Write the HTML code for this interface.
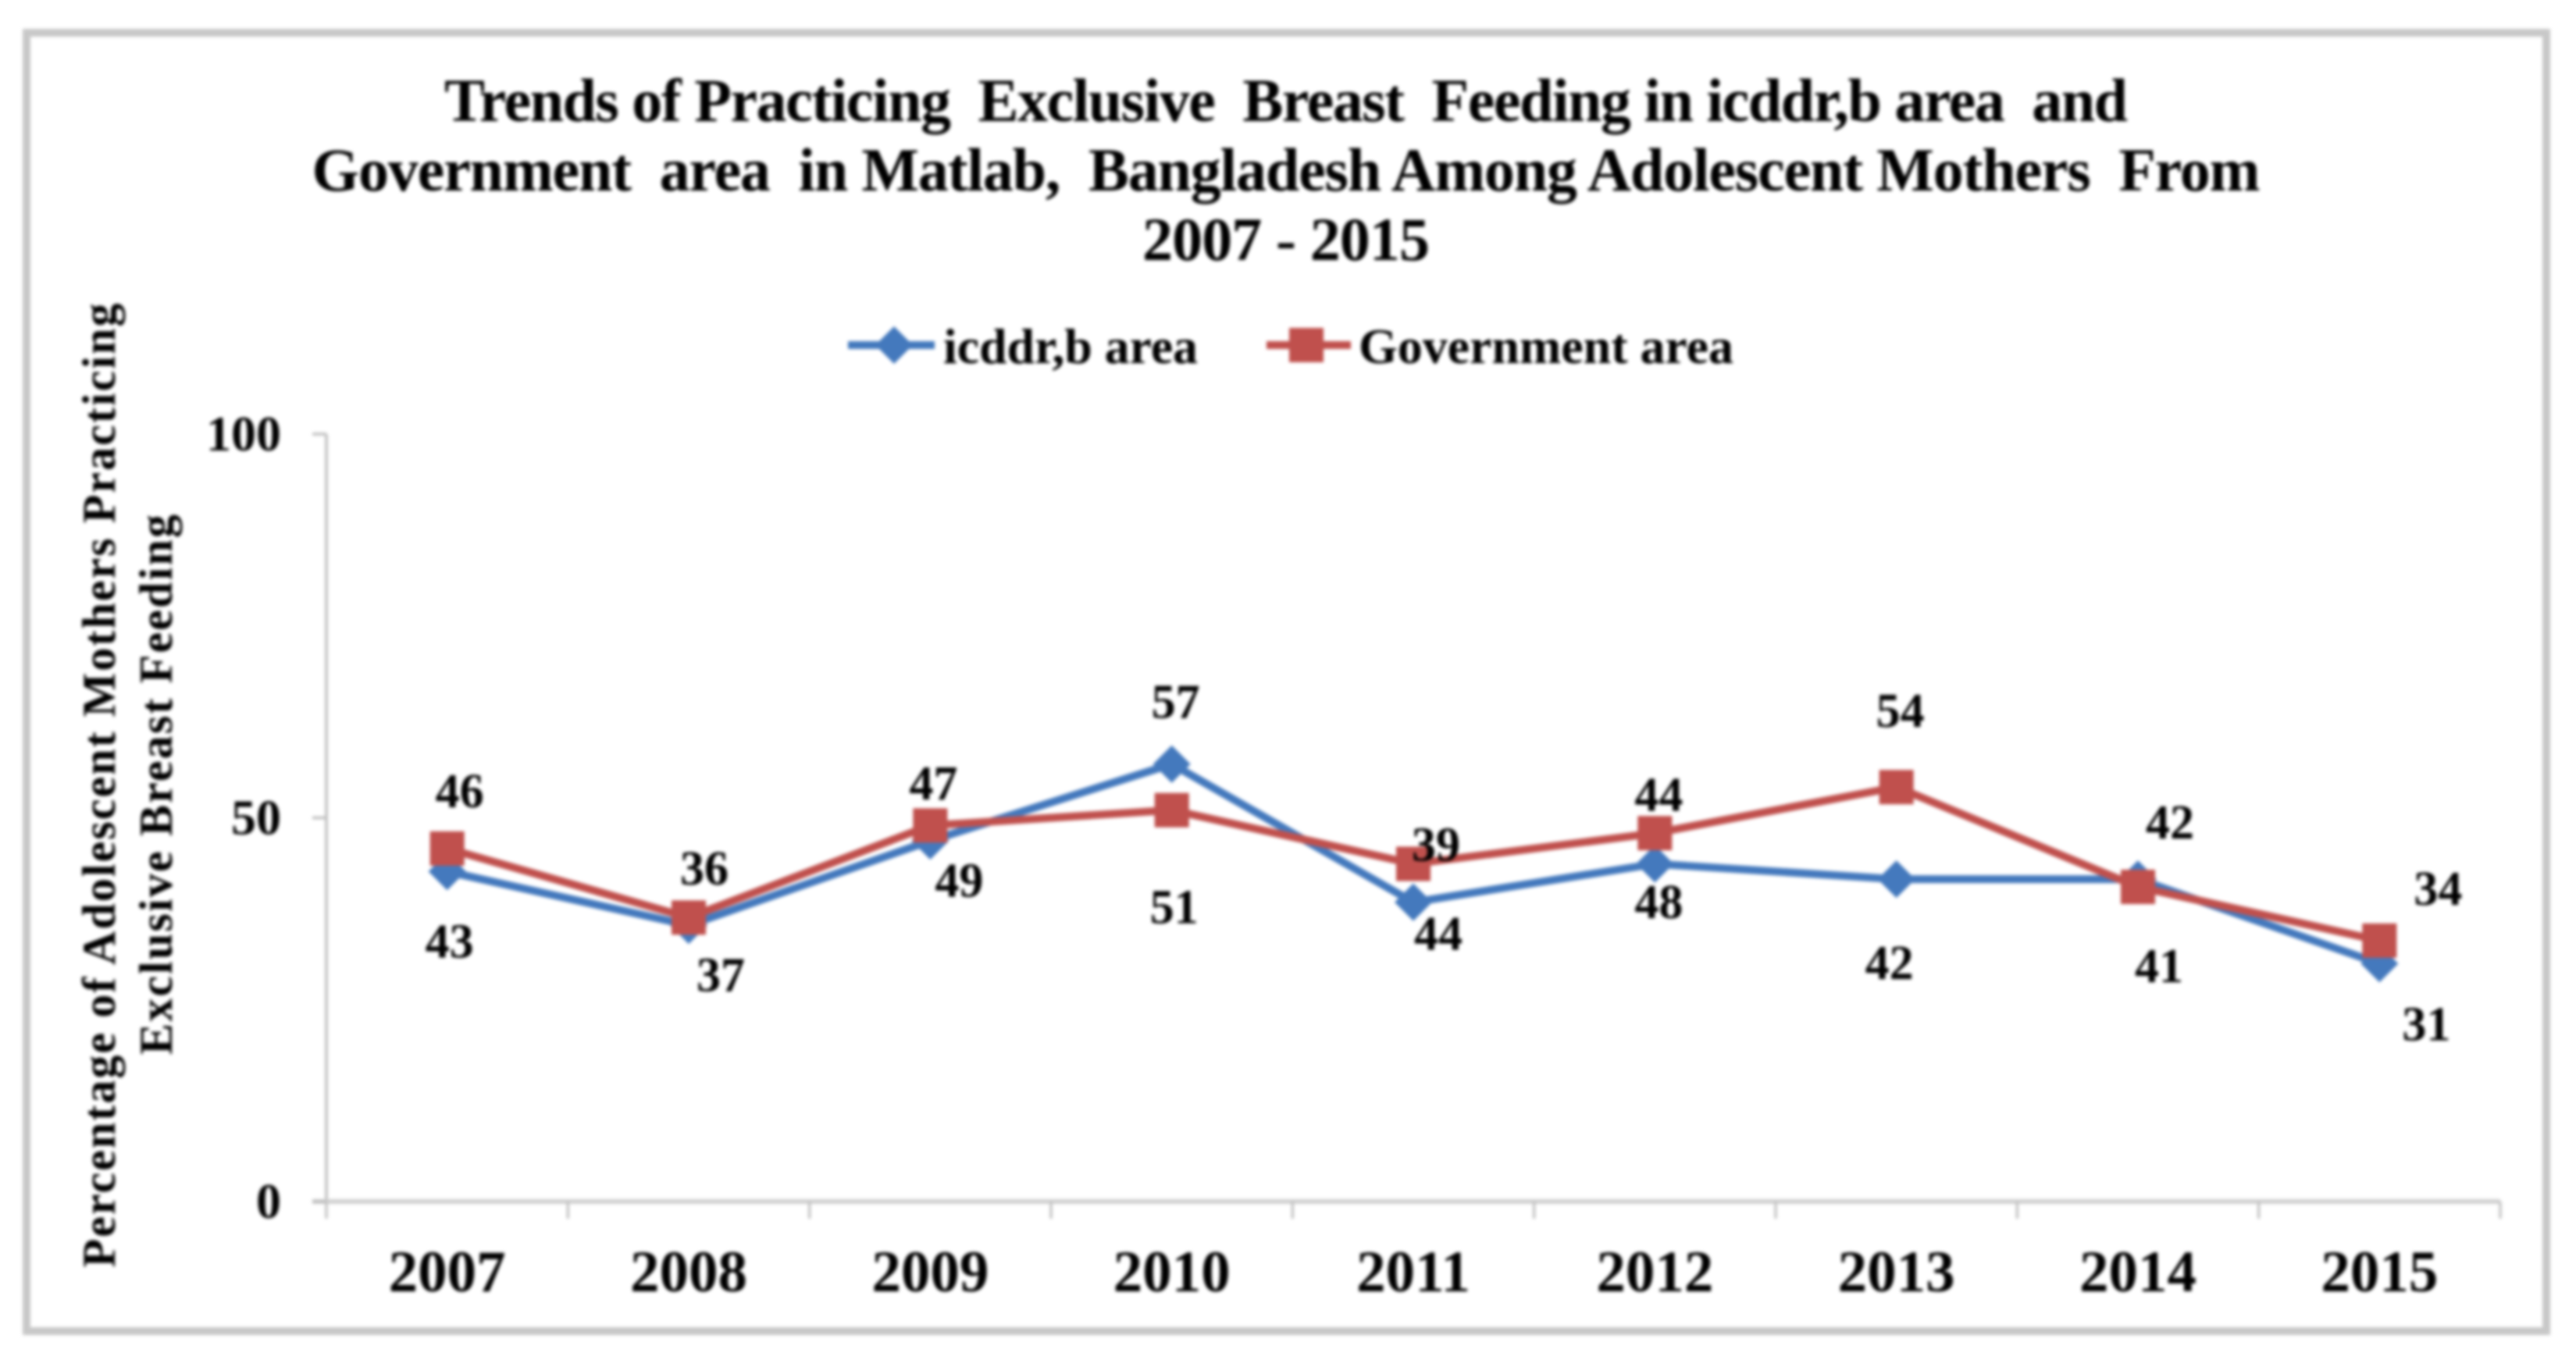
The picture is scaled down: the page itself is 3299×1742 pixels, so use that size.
<!DOCTYPE html>
<html lang="en">
<head>
<meta charset="utf-8">
<title>Trends of Practicing Exclusive Breast Feeding</title>
<style>
html,body{margin:0;padding:0;background:#fff;width:3299px;height:1742px;overflow:hidden}
svg{display:block;filter:blur(2px)}
text{font-family:"Liberation Serif",serif;font-weight:bold;fill:#000;white-space:pre}
</style>
</head>
<body>
<svg id="chart" xmlns="http://www.w3.org/2000/svg" width="3299" height="1742" viewBox="0 0 3299 1742">
  <rect x="34" y="42" width="3227" height="1663" fill="#fff" stroke="#c8c8c8" stroke-width="10"/>
  <g font-size="78" text-anchor="middle">
    <text x="1647" y="155" textLength="2156" lengthAdjust="spacing" xml:space="preserve">Trends of Practicing  Exclusive  Breast  Feeding in icddr,b area  and</text>
    <text x="1647" y="244" textLength="2495" lengthAdjust="spacing" xml:space="preserve">Government  area  in Matlab,  Bangladesh Among Adolescent Mothers  From</text>
    <text x="1647" y="333" textLength="368" lengthAdjust="spacing">2007 - 2015</text>
  </g>
  <g font-size="60" text-anchor="middle">
    <text transform="translate(147 1006) rotate(-90)" textLength="1235" lengthAdjust="spacing">Percentage of Adolescent Mothers Practicing</text>
    <text transform="translate(220 1005) rotate(-90)" textLength="692" lengthAdjust="spacing">Exclusive Breast Feeding</text>
  </g>
  <g>
    <g>
      <line x1="1086" y1="442" x2="1197" y2="442" stroke="#4479bd" stroke-width="10"/>
      <polygon points="1145,418 1169,442 1145,466 1121,442" fill="#4479bd"/>
      <text x="1208" y="465" font-size="64" textLength="326" lengthAdjust="spacing">icddr,b area</text>
    </g>
    <g>
      <line x1="1622" y1="442" x2="1730" y2="442" stroke="#c0504d" stroke-width="10"/>
      <rect x="1651" y="420" width="44" height="44" fill="#c0504d"/>
      <text x="1740" y="465" font-size="64" textLength="480" lengthAdjust="spacing">Government area</text>
    </g>
  </g>
  <g id="axes"></g>
  <g id="series"></g>
  <g id="labels"></g>
</svg>
<script>
var categories = ["2007","2008","2009","2010","2011","2012","2013","2014","2015"];
var icddrbValues = [43,36,47,57,39,44,42,42,31];
var governmentValues = [46,37,49,51,44,48,54,41,34];
var yTickValues = [0,50,100];

var NS = "http://www.w3.org/2000/svg";
var plot = {left:418, right:3202, top:556, bottom:1539, yMax:100};
function xPos(i){ return plot.left + (plot.right - plot.left) * (i + 0.5) / categories.length; }
function xEdge(i){ return plot.left + (plot.right - plot.left) * i / categories.length; }
function yPos(v){ return plot.bottom - (plot.bottom - plot.top) * v / plot.yMax; }
function make(tag, attrs, parent, text){
  var el = document.createElementNS(NS, tag);
  for (var k in attrs) el.setAttribute(k, attrs[k]);
  if (text !== undefined) el.textContent = text;
  parent.appendChild(el);
  return el;
}
var axes = document.getElementById("axes");
var seriesLayer = document.getElementById("series");
var labelLayer = document.getElementById("labels");

var yAxis = make("line", {x1:plot.left, y1:plot.top, x2:plot.left, y2:plot.bottom, stroke:"#bdbdbd", "stroke-width":3.5}, axes);


var xAxis = make("line", {x1:400, y1:plot.bottom, x2:plot.right, y2:plot.bottom, stroke:"#d0d0d0", "stroke-width":6}, axes);



yTickValues.forEach(function(v){
  var t = make("line", {x1:400, y1:yPos(v), x2:plot.left, y2:yPos(v), stroke:"#bdbdbd", "stroke-width":3.5}, axes);
  
  
  var l = make("text", {x:360, y:yPos(v) + 21, "text-anchor":"end", "font-size":64}, axes, String(v));
  
  
});
for (var e = 0; e <= categories.length; e++){
  var tk = make("line", {x1:xEdge(e), y1:plot.bottom, x2:xEdge(e), y2:plot.bottom + 22, stroke:"#c4c4c4", "stroke-width":3.5}, axes);
  
  
}
categories.forEach(function(c, i){
  var l = make("text", {x:xPos(i), y:1654, "text-anchor":"middle", "font-size":75}, axes, c);
  
  
});

function polyPoints(vals){
  return vals.map(function(v, i){ return xPos(i) + "," + yPos(v); }).join(" ");
}
var blueLine = make("polyline", {points:polyPoints(icddrbValues), fill:"none", stroke:"#4479bd", "stroke-width":10, "stroke-linejoin":"miter"}, seriesLayer);


icddrbValues.forEach(function(v, i){
  var cx = xPos(i), cy = yPos(v), r = 24;
  var d = make("polygon", {points:cx+","+(cy-r)+" "+(cx+r)+","+cy+" "+cx+","+(cy+r)+" "+(cx-r)+","+cy, fill:"#4479bd"}, seriesLayer);
  
  
});
var redLine = make("polyline", {points:polyPoints(governmentValues), fill:"none", stroke:"#c0504d", "stroke-width":10, "stroke-linejoin":"miter"}, seriesLayer);


governmentValues.forEach(function(v, i){
  var s = 44;
  var r = make("rect", {x:xPos(i)-s/2, y:yPos(v)-s/2, width:s, height:s, fill:"#c0504d"}, seriesLayer);
  
  
});

/* hand-placed label nudges relative to each marker, as in the source chart */
var icddrbNudgeX = [3,20,4,5,29,5,-9,41,60];
var icddrbNudgeY = [89,-73,-74,-80,-74,-89,107,-73,77];
var governmentNudgeX = [16,41,37,3,32,5,5,27,75];
var governmentNudgeY = [-74,73,70,124,89,88,-98,101,-67];

icddrbValues.forEach(function(v, i){
  var l = make("text", {x:xPos(i)+icddrbNudgeX[i], y:yPos(v)+icddrbNudgeY[i]+21, "text-anchor":"middle", "font-size":62}, labelLayer, String(v));
  
  
});
governmentValues.forEach(function(v, i){
  var l = make("text", {x:xPos(i)+governmentNudgeX[i], y:yPos(v)+governmentNudgeY[i]+21, "text-anchor":"middle", "font-size":62}, labelLayer, String(v));
  
  
});
</script>
</body>
</html>
